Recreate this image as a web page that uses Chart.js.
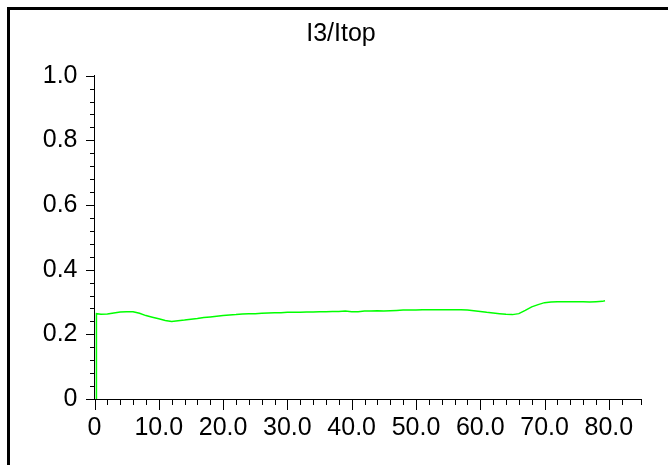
<!DOCTYPE html>
<html>
<head>
<meta charset="utf-8">
<script src="https://cdn.jsdelivr.net/npm/chart.js@4"></script>
<style>
  html, body { margin: 0; padding: 0; background: #fff; overflow: hidden; }
  #wrap { position: relative; width: 668px; height: 465px; }
  #frame { position: absolute; left: 7px; top: 7px; width: 700px; height: 500px; border: 3px solid #000; }
  canvas { position: absolute; left: 0; top: 0; }
</style>
</head>
<body>
<div id="wrap">
  <div id="frame"></div>
  <canvas id="myChart" width="668" height="465"></canvas>
</div>
<script>

// ratio I3/Itop
const xValues = [0.25, 0.3, 1, 2, 3, 4, 5, 6, 7, 8, 9, 10, 11, 12, 13, 14, 15, 16, 17, 18, 19,
    20, 21, 22, 23, 24, 25, 26, 27, 28, 29, 30, 31, 32, 33, 34, 35, 36, 37, 38, 39,
    40, 41, 42, 43, 44, 45, 46, 47, 48, 49, 50, 51, 52, 53, 54, 55, 56, 57, 58, 59,
    60, 61, 62, 63, 64, 65, 66, 67, 68, 69, 70, 71, 72, 73, 74, 75, 76, 77, 78, 79, 79.4];
const yValues = [0, 0.264, 0.262, 0.263, 0.266, 0.269, 0.270, 0.270, 0.265, 0.258, 0.253, 0.248, 0.243, 0.240, 0.242, 0.244, 0.247, 0.249, 0.252, 0.254, 0.256,
    0.258, 0.260, 0.261, 0.263, 0.264, 0.264, 0.265, 0.266, 0.267, 0.267, 0.268, 0.268, 0.268, 0.269, 0.269, 0.270, 0.270, 0.271, 0.271, 0.272,
    0.270, 0.270, 0.272, 0.272, 0.273, 0.272, 0.273, 0.274, 0.275, 0.275, 0.275, 0.276, 0.276, 0.276, 0.276, 0.276, 0.276, 0.276, 0.275, 0.273,
    0.271, 0.268, 0.266, 0.264, 0.262, 0.261, 0.264, 0.274, 0.285, 0.292, 0.298, 0.300, 0.301, 0.301, 0.301, 0.301, 0.301, 0.300, 0.301, 0.302, 0.304];

const xMin = 0, xMax = 85, xStep = 2, xMajor = 10;
const yMin = 0, yMax = 1, yStep = 0.04, yMajor = 0.2;
const titleText = 'I3/Itop';

function isMajor(v, m)
{
    let r = v / m;
    return Math.abs(r - Math.round(r)) < 1e-6;
}

function fmt(v)
{
    if (Math.abs(v) < 1e-9) return '0';
    return v.toFixed(1);
}

// draws the tick marks, long on major values, short otherwise
const tickMarks = {
    id: 'tickMarks',
    afterDraw(chart) {
        const ctx = chart.ctx;
        const xs = chart.scales.x;
        const ys = chart.scales.y;
        ctx.save();
        ctx.strokeStyle = '#000';
        ctx.lineWidth = 1;
        ctx.beginPath();
        xs.ticks.forEach(t => {
            let px = Math.round(xs.getPixelForValue(t.value)) + 0.5;
            let len = isMajor(t.value, xMajor) ? 11 : 6;
            ctx.moveTo(px, xs.top);
            ctx.lineTo(px, xs.top + len);
        });
        ys.ticks.forEach(t => {
            let py = Math.round(ys.getPixelForValue(t.value)) + 0.5;
            let len = isMajor(t.value, yMajor) ? 8.5 : 4.5;
            ctx.moveTo(ys.right, py);
            ctx.lineTo(ys.right - len, py);
        });
        ctx.stroke();
        ctx.restore();
    }
};

let points = [];
for(let i = 0; i < xValues.length; i++)
{
    points.push({x: xValues[i], y: yValues[i]});
}

const ctx = document.getElementById('myChart');

new Chart(ctx, {
    type: 'line',
    data: {
        datasets: [{
            label: titleText,
            data: points,
            borderColor: 'rgb(0,255,0)',
            borderWidth: 1.5,
            pointRadius: 0,
            tension: 0,
            fill: false
        }]
    },
    options: {
        responsive: false,
        animation: false,
        events: [],
        layout: { padding: { left: 41, right: 27, top: 0, bottom: 0 } },
        plugins: {
            legend: { display: false },
            tooltip: { enabled: false },
            title: {
                display: true,
                text: titleText,
                color: '#000',
                font: { family: 'Liberation Sans, Arial, sans-serif', size: 25, weight: 'normal' },
                padding: { top: 19, bottom: 26.7 }
            }
        },
        scales: {
            x: {
                type: 'linear',
                min: xMin,
                max: xMax,
                afterFit(scale) { scale.height = 66; },
                grid: { display: true, drawOnChartArea: false, drawTicks: true, tickLength: 11, tickColor: 'rgba(0,0,0,0)' },
                border: { display: true, color: '#000', width: 1 },
                ticks: {
                    stepSize: xStep,
                    autoSkip: false,
                    maxRotation: 0,
                    padding: 3,
                    color: '#000',
                    font: { family: 'Liberation Sans, Arial, sans-serif', size: 25 },
                    callback: function (v) { return isMajor(v, xMajor) ? fmt(v) : ''; }
                }
            },
            y: {
                min: yMin,
                max: yMax,
                afterFit(scale) { scale.width = 53.5; },
                grid: { display: true, drawOnChartArea: false, drawTicks: true, tickLength: 8, tickColor: 'rgba(0,0,0,0)' },
                border: { display: true, color: '#000', width: 1 },
                ticks: {
                    stepSize: yStep,
                    autoSkip: false,
                    padding: 9,
                    color: '#000',
                    font: { family: 'Liberation Sans, Arial, sans-serif', size: 25 },
                    callback: function (v) { return isMajor(v, yMajor) ? fmt(v) : ''; }
                }
            }
        }
    },
    plugins: [tickMarks]
});

</script>
</body>
</html>
